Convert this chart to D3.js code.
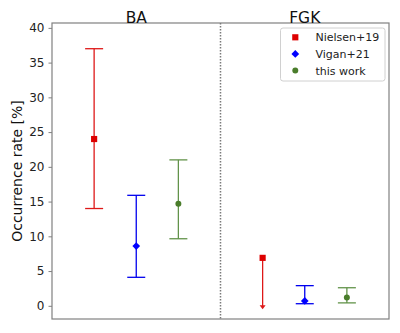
<!DOCTYPE html>
<html><head><meta charset="utf-8">
<script src="https://cdn.jsdelivr.net/npm/d3@7"></script>
<style>body{margin:0;background:#fff;} text{font-family:"DejaVu Sans",sans-serif;}</style>
</head><body>
<svg id="chart" width="400" height="333"></svg>
<script>
const groups = ["BA", "FGK"];
const seriesNames = ["Nielsen+19", "Vigan+21", "this work"];
const nielsenVal = [24.0, 6.9];
const nielsenLo  = [14.0, -0.5];
const nielsenHi  = [37.0, null];
const nielsenUpperLimit = [false, true];
const viganVal = [8.6, 0.7];
const viganLo  = [4.1, 0.3];
const viganHi  = [15.9, 2.9];
const thisVal = [14.7, 1.2];
const thisLo  = [9.65, 0.42];
const thisHi  = [21.0, 2.6];
const yTicks = [0, 5, 10, 15, 20, 25, 30, 35, 40];

const series = [
  {name: seriesNames[0], val: nielsenVal, lo: nielsenLo, hi: nielsenHi, ul: nielsenUpperLimit, color: "#dd0000", line: "#de1818", shape: d3.symbolSquare, size: 38, rot: 0},
  {name: seriesNames[1], val: viganVal, lo: viganLo, hi: viganHi, ul: [false,false], color: "#0000ff", line: "#0000ee", shape: d3.symbolSquare, size: 30, rot: 45},
  {name: seriesNames[2], val: thisVal, lo: thisLo, hi: thisHi, ul: [false,false], color: "#4a7d2b", line: "#62934a", shape: d3.symbolCircle, size: 28, rot: 0}
];

const svg = d3.select("#chart");
const L = 52, R = 389, T = 23, B = 319;
const x = d3.scaleLinear().domain([0, 8]).range([L, R]);
const y = d3.scaleLinear().domain([-1.9, 40.7]).range([B, T]);
const xOf = (g, s) => x(g * 4 + s + 1);

// frame
svg.append("rect").attr("x", L).attr("y", T).attr("width", R - L).attr("height", B - T)
  .attr("fill", "none").attr("stroke", "#808080").attr("stroke-width", 1.2);

// y axis
const yAxis = d3.axisLeft(y).tickValues(yTicks).tickSize(3.5).tickPadding(4);
const ga = svg.append("g").attr("transform", `translate(${L},0)`).call(yAxis);
ga.select(".domain").remove();
ga.selectAll(".tick line").attr("stroke", "#808080");
ga.selectAll(".tick text").attr("font-size", 12).attr("fill", "#222").attr("font-family", "DejaVu Sans");

// y label
svg.append("text").attr("transform", `translate(22,${(T + B) / 2}) rotate(-90)`)
  .attr("text-anchor", "middle").attr("font-size", 14).attr("fill", "#111")
  .text("Occurrence rate [%]");

// divider
svg.append("line").attr("x1", x(4)).attr("x2", x(4)).attr("y1", T).attr("y2", B)
  .attr("stroke", "#7a7a7a").attr("stroke-width", 1.5).attr("stroke-dasharray", "1.5,1.5");

// group titles
groups.forEach((g, gi) => {
  svg.append("text").attr("x", xOf(gi, 1)).attr("y", 22.5).attr("text-anchor", "middle")
    .attr("font-size", 15.5).attr("fill", "#111").text(g);
});

// error bars and markers
const cap = 9;
series.forEach((s, si) => {
  groups.forEach((g, gi) => {
    const cx = xOf(gi, si);
    const gg = svg.append("g");
    if (s.ul[gi]) {
      const yEnd = y(s.lo[gi]);
      gg.append("line").attr("x1", cx).attr("x2", cx).attr("y1", y(s.val[gi])).attr("y2", yEnd - 3)
        .attr("stroke", s.line).attr("stroke-width", 1.3);
      gg.append("path").attr("d", `M${cx - 3},${yEnd - 4}L${cx + 3},${yEnd - 4}L${cx},${yEnd}Z`)
        .attr("fill", s.line);
    } else {
      gg.append("line").attr("x1", cx).attr("x2", cx).attr("y1", y(s.lo[gi])).attr("y2", y(s.hi[gi]))
        .attr("stroke", s.line).attr("stroke-width", 1.3);
      [s.lo[gi], s.hi[gi]].forEach(v => {
        gg.append("line").attr("x1", cx - cap).attr("x2", cx + cap).attr("y1", y(v)).attr("y2", y(v))
          .attr("stroke", s.line).attr("stroke-width", 1.3);
      });
    }
    gg.append("path").attr("d", d3.symbol().type(s.shape).size(s.size)())
      .attr("transform", `translate(${cx},${y(s.val[gi])}) rotate(${s.rot})`).attr("fill", s.color);
  });
});

// legend
const lg = svg.append("g");
lg.append("rect").attr("x", 280.5).attr("y", 28).attr("width", 104.5).attr("height", 53)
  .attr("rx", 2.5).attr("fill", "#fff").attr("fill-opacity", 0.85).attr("stroke", "#d0d0d0").attr("stroke-width", 1);
series.forEach((s, i) => {
  const ry = 37.3 + i * 16.6;
  lg.append("path").attr("d", d3.symbol().type(s.shape).size(s.size)())
    .attr("transform", `translate(295.3,${ry}) rotate(${s.rot})`).attr("fill", s.color);
  lg.append("text").attr("x", 315.5).attr("y", ry + 4).attr("font-size", 11)
    .attr("fill", "#222").text(s.name);
});
</script>
</body></html>
